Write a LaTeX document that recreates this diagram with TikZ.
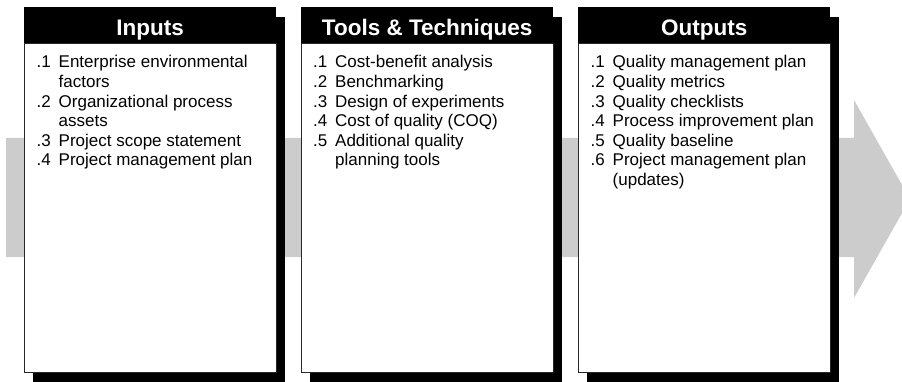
\documentclass[tikz,border=0pt]{standalone}
\usepackage{fontspec}
\setmainfont{Liberation Sans}
\definecolor{arrowgray}{RGB}{204,204,204}
\definecolor{borderdark}{RGB}{40,40,40}
\tikzset{
  x=1pt, y=-1pt,
  shadowbox/.style={fill=black, draw=none, inner sep=0, anchor=north west,
    minimum width=252pt, minimum height=365pt},
  headbox/.style={fill=black, draw=none, text=white, inner sep=0, anchor=north west,
    minimum width=252pt, minimum height=36pt, text height=20pt, text depth=0pt,
    font=\fontsize{22.5}{26}\selectfont\bfseries},
  bodybox/.style={fill=white, draw=borderdark, line width=0.9pt, inner sep=0, anchor=north west,
    minimum width=252pt, minimum height=329pt},
  listtext/.style={anchor=north west, inner sep=0, align=left,
    font=\fontsize{17}{19.6}\selectfont},
}
\newcommand{\nm}[1]{\makebox[22pt][l]{#1}}
\begin{document}
\begin{tikzpicture}
\useasboundingbox (0,0) rectangle (902,382);
% big gray arrow
\fill[arrowgray] (6,138) -- (854,138) -- (854,100) -- (910,199) -- (854,298) -- (854,257) -- (6,257) -- cycle;
% shadows
\node[shadowbox] (s1) at (33,17) {};
\node[shadowbox] (s2) at (310,17) {};
\node[shadowbox] (s3) at (587,17) {};
% bodies
\node[bodybox] (b1) at (24,43) {};
\node[bodybox] (b2) at (301,43) {};
\node[bodybox] (b3) at (578,43) {};
% headers
\node[headbox] (h1) at (24,7) {Inputs};
\node[headbox] (h2) at (301,7) {Tools \& Techniques};
\node[headbox] (h3) at (578,7) {Outputs};
% lists
\node[listtext] (t1) at (36.5,54) {\begin{tabular}{@{}l@{}}
\nm{.1}Enterprise environmental\\
\nm{}factors\\
\nm{.2}Organizational process\\
\nm{}assets\\
\nm{.3}Project scope statement\\
\nm{.4}Project management plan
\end{tabular}};
\node[listtext] (t2) at (313,54) {\begin{tabular}{@{}l@{}}
\nm{.1}Cost-benefit analysis\\
\nm{.2}Benchmarking\\
\nm{.3}Design of experiments\\
\nm{.4}Cost of quality (COQ)\\
\nm{.5}Additional quality\\
\nm{}planning tools
\end{tabular}};
\node[listtext] (t3) at (590.5,54) {\begin{tabular}{@{}l@{}}
\nm{.1}Quality management plan\\
\nm{.2}Quality metrics\\
\nm{.3}Quality checklists\\
\nm{.4}Process improvement plan\\
\nm{.5}Quality baseline\\
\nm{.6}Project management plan\\
\nm{}(updates)
\end{tabular}};
\end{tikzpicture}
\end{document}
